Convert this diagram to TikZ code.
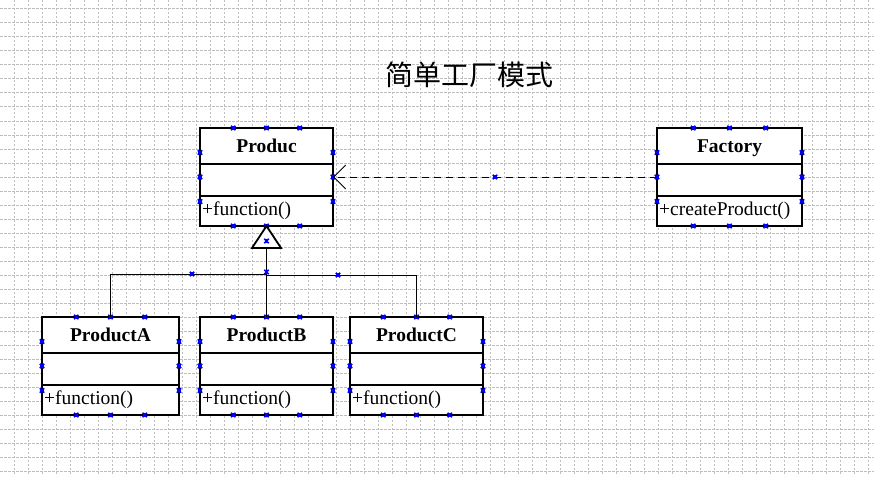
\documentclass[tikz,border=0pt]{standalone}
\usepackage{fontspec}
\setmainfont{Liberation Serif}
\newfontfamily\cjk{Noto Sans CJK SC}
\usetikzlibrary{arrows.meta}
\definecolor{gridc}{HTML}{BEBEBE}
\definecolor{mkc}{HTML}{0000FF}
\tikzset{
  cls/.style={draw=black, line width=1.8pt, fill=white, rectangle, inner sep=0pt, outer sep=0pt, anchor=north west},
  clsname/.style={font=\fontsize{19.5}{19.5}\selectfont\bfseries, anchor=base, inner sep=0pt},
  clsop/.style={font=\fontsize{19.5}{19.5}\selectfont, anchor=base west, inner sep=0pt},
  divider/.style={line width=1.8pt},
  conn/.style={draw=black, line width=0.9pt},
  dep/.style={draw=black, line width=0.9pt, dash pattern=on 7pt off 5pt},
  mkst/.style={draw=mkc, line width=1.6pt},
  gridline/.style={draw=gridc, line width=1pt, dash pattern=on 2pt off 2pt},
  gridlineh/.style={draw=gridc, line width=1pt, dash pattern=on 3pt off 1pt},
}
\newcommand\mymk[1]{\fill[mkc] (#1) +(-1.6,-1.6) rectangle +(1.6,1.6); \draw[mkst] (#1) +(-2.2,-2.2) -- +(2.2,2.2) +(-2.2,2.2) -- +(2.2,-2.2);}
\newcommand\mybox[6]{% name, x0, y0, w, title, op
  \node[cls, minimum width=#4pt, minimum height=98pt] (#1) at (#2,#3) {};
  \draw[divider] (#2,#3+36) -- (#2+#4,#3+36);
  \draw[divider] (#2,#3+68) -- (#2+#4,#3+68);
  \node[clsname] (#1-t) at (#2+#4/2,#3+24) {#5};
  \node[clsop] (#1-o) at (#2+2,#3+87) {#6};
  \foreach \f in {0.25,0.5,0.75}{
    \mymk{#2+\f*#4,#3}
    \mymk{#2+\f*#4,#3+98}
    \mymk{#2,#3+\f*98}
    \mymk{#2+#4,#3+\f*98}
  }
}
\begin{document}
\begin{tikzpicture}[x=1pt,y=-1pt]
\useasboundingbox (0,0) rectangle (874,476);
\fill[white] (0,0) rectangle (874,476);
% grid
\foreach \gx in {14,28,...,868}{\draw[gridline] (\gx,0) -- (\gx,476);}
\foreach \gy in {9,23,...,471}{\draw[gridlineh] (0,\gy) -- (874,\gy);}
% title
\node[font=\cjk\fontsize{28}{28}\selectfont, anchor=base, inner sep=0pt] (title) at (469,85) {简单工厂模式};
% connectors
\coordinate (tribase) at (266.5,248);
\coordinate (jl) at (266.5,274);
\coordinate (jr) at (266.5,275);
% classes
\mybox{produc}{200}{128}{133}{Produc}{+function()}
\mybox{factory}{657}{128}{145}{Factory}{+createProduct()}
\mybox{pa}{42}{317}{137}{ProductA}{+function()}
\mybox{pb}{200}{317}{133}{ProductB}{+function()}
\mybox{pc}{350}{317}{133}{ProductC}{+function()}
% dependency
\draw[dep, -{Straight Barb[length=12pt,width=24pt,line width=0.9pt]}] (factory.west) -- (produc.east);
% inheritance
\draw[conn] (pb.north) -- (tribase);
\draw[conn] (pa.north) |- (jl);
\draw[conn] (pc.north) |- (jr);
\draw[line width=1.8pt, fill=white, line join=miter] (produc.south) -- (252,248) -- (281,248) -- cycle;
% markers on connectors
\mymk{495,177}
\mymk{266.5,241}
\mymk{266.5,272}
\mymk{192,274}
\mymk{338,275}
\end{tikzpicture}
\end{document}
